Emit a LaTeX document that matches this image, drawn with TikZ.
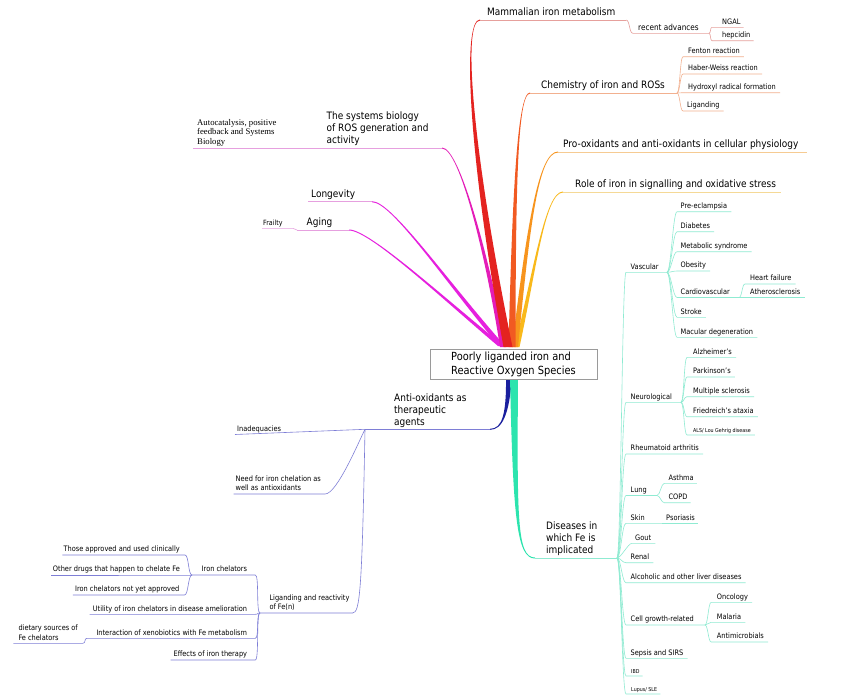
\documentclass[tikz,border=0pt]{standalone}
\usepackage{fontspec}
\setmainfont{DejaVu Sans}[FakeStretch=0.88]
\newfontfamily\timesf{Liberation Serif}
\usetikzlibrary{calc}
\definecolor{cRed}{HTML}{E42320}
\definecolor{lRed}{HTML}{E6A09C}
\definecolor{cChem}{HTML}{F15A22}
\definecolor{lChem}{HTML}{F2B08F}
\definecolor{cPro}{HTML}{F7941D}
\definecolor{lPro}{HTML}{F6CB92}
\definecolor{cRole}{HTML}{F9B91B}
\definecolor{lRole}{HTML}{F5D996}
\definecolor{cSys}{HTML}{E41CB8}
\definecolor{cMag}{HTML}{E620DE}
\definecolor{lMag}{HTML}{E6A0DF}
\definecolor{cBlue}{HTML}{1A1F9E}
\definecolor{lBlue}{HTML}{7E7ED6}
\definecolor{cAqua}{HTML}{2CE4AE}
\definecolor{lAqua}{HTML}{8FEBD2}
\definecolor{boxgray}{HTML}{9A9A9A}
\newcommand\fbig{\fontsize{10.2}{12}\selectfont}
\newcommand\fsm{\fontsize{7.5}{9.5}\selectfont}
\newcommand\fmid{\fontsize{8.3}{10}\selectfont}
\newcommand\ftiny{\fontsize{5.4}{6.5}\selectfont}
\newcommand\ftitle{\fontsize{11.2}{14}\selectfont}
% tapered thick branches
\newcommand\taperR[6]{\fill[#1] ($(#2)+(-#6,0)$) .. controls ($(#3)+(-0.5*#6,0)$) and ($(#4)+(0,-0.5)$) .. ($(#5)+(0,-0.5)$) -- ($(#5)+(0,0.5)$) .. controls ($(#4)+(0,0.5)$) and ($(#3)+(0.5*#6,0)$) .. ($(#2)+(#6,0)$) -- cycle;}
\newcommand\taperL[6]{\fill[#1] ($(#2)+(-#6,0)$) .. controls ($(#3)+(-0.5*#6,0)$) and ($(#4)+(0,0.5)$) .. ($(#5)+(0,0.5)$) -- ($(#5)+(0,-0.5)$) .. controls ($(#4)+(0,-0.5)$) and ($(#3)+(0.5*#6,0)$) .. ($(#2)+(#6,0)$) -- cycle;}
% connectors
\newcommand\Rch[6]{\draw[#1] (#2) .. controls +(#4,0) and +(-#4,0) .. ([xshift=-#5]#3.south west) -- ([xshift=#6]#3.south east);}
\newcommand\Rfk[6]{\draw[#1] (#2) .. controls +(#4,0) and +(-#4,0) .. ([xshift=-#5]#3.south west) -- (#6);}
\newcommand\Lch[6]{\draw[#1] (#2) .. controls +(-#4,0) and +(#4,0) .. ([xshift=#5]#3.south east) -- ([xshift=-#6]#3.south west);}
\newcommand\Lfk[6]{\draw[#1] (#2) .. controls +(-#4,0) and +(#4,0) .. ([xshift=#5]#3.south east) -- (#6);}
\tikzset{
 lbtxt/.style={inner xsep=0pt,inner ysep=3pt,text depth=0pt,align=left,font=\fsm},
 lbR/.style={lbtxt,anchor=south west},
 lbL/.style={lbtxt,anchor=south east},
 lbBig/.style={font=\fbig,inner ysep=4pt},
 lbTiny/.style={font=\ftiny,inner ysep=2.5pt},
 rootbox/.style={draw=boxgray,fill=white,line width=0.8pt,minimum width=167pt,minimum height=30pt,inner sep=0pt,align=left,font=\ftitle},
 ulMain/.style={line width=0.9pt},
 ulSub/.style={line width=0.6pt},
 sRed/.style={ulSub,draw=lRed}, sRedM/.style={ulMain,draw=lRed},
 sChem/.style={ulSub,draw=lChem}, sChemM/.style={ulMain,draw=lChem},
 sProM/.style={ulMain,draw=lPro}, sRoleM/.style={ulMain,draw=lRole},
 sMag/.style={ulSub,draw=lMag}, sMagM/.style={ulMain,draw=lMag},
 sBlue/.style={ulSub,draw=lBlue}, sBlueM/.style={ulMain,draw=lBlue},
 sAqua/.style={ulSub,draw=lAqua}, sAquaM/.style={ulMain,draw=lAqua},
}
\begin{document}
\begin{tikzpicture}[x=1pt,y=-1pt]
\fill[white] (0,0) rectangle (849,699);
\useasboundingbox (0,0) rectangle (849,699);

% ---------- thick main branches ----------
\taperL{cMag}{501,346}{445,300}{370,230}{349,230}{3}
\taperL{cMag}{502,346}{445,280}{392,201.7}{372,201.7}{3}
\taperL{cSys}{503,347}{488,260}{460,148}{442,148}{3}
\taperR{cRole}{517,347}{535,270}{545,192}{563,192}{2.5}
\taperR{cPro}{515,347}{528,230}{538,152}{558,152}{3}
\taperR{cChem}{512,347}{514,200}{517,93}{530,93}{3.5}
\taperR{cRed}{508,347}{470,150}{462,20}{480,20}{4.5}
\taperR{cBlue}{509,376}{508,415}{502,429.3}{490,429.3}{3}
\taperL{cAqua}{514,376}{515,520}{517,558}{535,558}{4}

% ---------- central node ----------
\node[rootbox] (root) at (513.5,364) {Poorly liganded iron and\\Reactive Oxygen Species};

% ---------- main labels ----------
\node[lbR,lbBig] (mam) at (487,20) {Mammalian iron metabolism};
\node[lbR,lbBig] (chem) at (541,93) {Chemistry of iron and ROSs};
\node[lbR,lbBig] (prox) at (563,152) {Pro-oxidants and anti-oxidants in cellular physiology};
\node[lbR,lbBig] (role) at (575,192) {Role of iron in signalling and oxidative stress};
\node[lbR,lbBig] (sys) at (326.5,148) {The systems biology\\of ROS generation and\\activity};
\node[lbR,lbBig] (lon) at (311,201.7) {Longevity};
\node[lbR,lbBig] (age) at (306.5,230) {Aging};
\node[lbR,lbBig] (anti) at (394,429.3) {Anti-oxidants as\\therapeutic\\agents};
\node[lbR,lbBig] (dis) at (546,558) {Diseases in\\which Fe is\\implicated};

% ---------- branch ends and forks ----------
\coordinate (mE) at (480,20);
\coordinate (fm) at (626,20);
\coordinate (frc) at (709,33.3);
\coordinate (cE) at (530,93);
\coordinate (fc) at (677,93);
\coordinate (pE) at (558,152);
\coordinate (rE) at (563,192);
\coordinate (sE) at (442,148);
\coordinate (fsy) at (300,148);
\coordinate (lE) at (372,201.7);
\coordinate (aE) at (349,230);
\coordinate (aF) at (297,230);
\coordinate (bE) at (490,429.3);
\coordinate (fa) at (365,429.3);
\coordinate (flg) at (260,613);
\coordinate (fi) at (192,575);
\coordinate (fx) at (87,638.3);
\coordinate (dE) at (535,558);
\coordinate (fd) at (617,558);
\coordinate (fv) at (667,272.3);
\coordinate (fcv) at (739,297.5);
\coordinate (fn) at (681,402.3);
\coordinate (flu) at (657,495.5);
\coordinate (fsk) at (662,523.3);
\coordinate (fg) at (705,625);

% ---------- Mammalian iron metabolism ----------
\node[lbR,font=\fmid] (rec) at (638,33.3) {recent advances};
\node[lbR] (ngal) at (722,27.3) {NGAL};
\node[lbR] (hep) at (722,40.7) {hepcidin};
\draw[sRedM] (mE) -- (fm);
\Rfk{sRed}{fm}{rec}{4}{5pt}{frc}
\Rch{sRed}{frc}{ngal}{2}{10pt}{3pt}
\Rch{sRed}{frc}{hep}{2}{10pt}{3pt}

% ---------- Chemistry ----------
\node[lbR] (fen) at (688,56.7) {Fenton reaction};
\node[lbR] (hab) at (688,74) {Haber-Weiss reaction};
\node[lbR] (hyd) at (688,92.7) {Hydroxyl radical formation};
\node[lbR] (lgd) at (687,111) {Liganding};
\draw[sChemM] (cE) -- (fc);
\Rch{sChem}{fc}{fen}{3}{5pt}{4pt}
\Rch{sChem}{fc}{hab}{3}{5pt}{4pt}
\Rch{sChem}{fc}{hyd}{3}{5pt}{4pt}
\Rch{sChem}{fc}{lgd}{3}{4pt}{4pt}

% ---------- Pro-oxidants, Role ----------
\draw[sProM] (pE) -- ([xshift=8pt]prox.south east);
\draw[sRoleM] (rE) -- ([xshift=5pt]role.south east);

% ---------- Systems biology, Longevity, Aging ----------
\node[lbR,font={\timesf\fontsize{8.7}{9.7}\selectfont},inner ysep=3.3pt] (auto) at (197,148) {Autocatalysis, positive\\feedback and Systems\\Biology};
\node[lbR,font=\fontsize{7.2}{9}\selectfont] (frail) at (263,228.3) {Frailty};
\draw[sMagM] (sE) -- (fsy);
\draw[sMag] (fsy) -- ([xshift=-4pt]auto.south west);
\draw[sMagM] (lE) -- ([xshift=-3pt]lon.south west);
\draw[sMagM] (aE) -- (aF);
\Lch{sMag}{aF}{frail}{2}{10pt}{1pt}

% ---------- Anti-oxidants ----------
\node[lbR] (inad) at (237,434.5) {Inadequacies};
\node[lbR] (need) at (235.5,494) {Need for iron chelation as\\well as antioxidants};
\node[lbR] (lig) at (269.3,613) {Liganding and reactivity\\of Fe(n)};
\node[lbL] (ich) at (247.3,575) {Iron chelators};
\node[lbL] (tap) at (180,555) {Those approved and used clinically};
\node[lbL] (oth) at (180,575) {Other drugs that happen to chelate Fe};
\node[lbL] (nya) at (179.5,595) {Iron chelators not yet approved};
\node[lbL] (util) at (247.3,614.3) {Utility of iron chelators in disease amelioration};
\node[lbL] (inter) at (247.3,638.3) {Interaction of xenobiotics with Fe metabolism};
\node[lbR] (diet) at (18.3,643.3) {dietary sources of\\Fe chelators};
\node[lbL] (eff) at (247.3,660) {Effects of iron therapy};
\draw[sBlueM] (bE) -- (fa);
\draw[sBlue] (fa) -- ([xshift=-2pt]inad.south west);
\draw[sBlue] (fa) .. controls (359,441) and (337,494) .. ([xshift=4pt]need.south east) -- ([xshift=-2pt]need.south west);
\draw[sBlue] (fa) .. controls (362,590) and (360,613) .. ([xshift=3pt]lig.south east) -- (flg);
\Lfk{sBlue}{flg}{ich}{4}{8pt}{fi}
\Lch{sBlue}{fi}{tap}{4}{5pt}{1pt}
\Lch{sBlue}{fi}{oth}{4}{5pt}{2pt}
\Lch{sBlue}{fi}{nya}{4}{5pt}{2pt}
\Lch{sBlue}{flg}{util}{4}{8pt}{3pt}
\Lfk{sBlue}{flg}{inter}{4}{8pt}{fx}
\Lch{sBlue}{flg}{eff}{4}{8pt}{3pt}
\draw[sBlue] (fx) .. controls +(-3,0) and +(3,0) .. ([xshift=5pt]diet.south east) -- ([xshift=-5pt]diet.south west);

% ---------- Diseases ----------
\node[lbR] (vasc) at (630.5,272.3) {Vascular};
\node[lbR] (pre) at (680.5,211.7) {Pre-eclampsia};
\node[lbR] (diab) at (680.5,231.7) {Diabetes};
\node[lbR] (meta) at (680.5,251.7) {Metabolic syndrome};
\node[lbR] (obes) at (680.5,271) {Obesity};
\node[lbR] (card) at (680.5,297.5) {Cardiovascular};
\node[lbR] (heart) at (750,284) {Heart failure};
\node[lbR] (ath) at (750,297.5) {Atherosclerosis};
\node[lbR] (strk) at (680.5,317.3) {Stroke};
\node[lbR] (mac) at (680.5,337.3) {Macular degeneration};
\node[lbR] (neuro) at (630.5,402.3) {Neurological};
\node[lbR] (alz) at (693,357.3) {Alzheimer's};
\node[lbR] (park) at (693,377) {Parkinson's};
\node[lbR] (ms) at (693,396.7) {Multiple sclerosis};
\node[lbR] (fri) at (693,416.7) {Friedreich's ataxia};
\node[lbR,lbTiny] (als) at (693,435) {ALS/ Lou Gehrig disease};
\node[lbR] (rheu) at (630.5,454) {Rheumatoid arthritis};
\node[lbR] (lung) at (630.5,495.5) {Lung};
\node[lbR] (ast) at (668.3,483.3) {Asthma};
\node[lbR] (copd) at (668.3,502.7) {COPD};
\node[lbR] (skin) at (630.5,523.3) {Skin};
\node[lbR] (psor) at (666,523.3) {Psoriasis};
\node[lbR] (gout) at (635,543.3) {Gout};
\node[lbR] (renal) at (630.5,562.7) {Renal};
\node[lbR] (alc) at (630.5,582.7) {Alcoholic and other liver diseases};
\node[lbR] (cell) at (630.5,625) {Cell growth-related};
\node[lbR] (onc) at (716.7,602.3) {Oncology};
\node[lbR] (mal) at (716.7,622.3) {Malaria};
\node[lbR] (amic) at (716.7,642) {Antimicrobials};
\node[lbR] (seps) at (630.5,658.3) {Sepsis and SIRS};
\node[lbR,lbTiny] (ibd) at (631,676) {IBD};
\node[lbR,lbTiny] (lup) at (631,694) {Lupus/ SLE};

\draw[sAquaM] (dE) -- (fd);
\Rfk{sAqua}{fd}{vasc}{4}{4.5pt}{fv}
\Rch{sAqua}{fv}{pre}{4}{3.5pt}{4pt}
\Rch{sAqua}{fv}{diab}{4}{3.5pt}{4pt}
\Rch{sAqua}{fv}{meta}{4}{3.5pt}{4pt}
\Rch{sAqua}{fv}{obes}{4}{3.5pt}{4pt}
\Rfk{sAqua}{fv}{card}{4}{3.5pt}{fcv}
\Rch{sAqua}{fcv}{heart}{3}{5pt}{4pt}
\Rch{sAqua}{fcv}{ath}{3}{5pt}{4pt}
\Rch{sAqua}{fv}{strk}{4}{3.5pt}{4pt}
\Rch{sAqua}{fv}{mac}{4}{3.5pt}{4pt}
\Rfk{sAqua}{fd}{neuro}{4}{4.5pt}{fn}
\Rch{sAqua}{fn}{alz}{3}{6pt}{4pt}
\Rch{sAqua}{fn}{park}{3}{6pt}{4pt}
\Rch{sAqua}{fn}{ms}{3}{6pt}{4pt}
\Rch{sAqua}{fn}{fri}{3}{6pt}{4pt}
\Rch{sAqua}{fn}{als}{3}{6pt}{4pt}
\Rch{sAqua}{fd}{rheu}{4}{4.5pt}{4pt}
\Rfk{sAqua}{fd}{lung}{4}{4.5pt}{flu}
\Rch{sAqua}{flu}{ast}{3}{4pt}{3pt}
\Rch{sAqua}{flu}{copd}{3}{4pt}{3pt}
\Rfk{sAqua}{fd}{skin}{4}{4.5pt}{fsk}
\draw[sAqua] (fsk) -- ([xshift=3pt]psor.south east);
\Rch{sAqua}{fd}{gout}{4}{3pt}{4pt}
\Rch{sAqua}{fd}{renal}{4}{4.5pt}{4pt}
\Rch{sAqua}{fd}{alc}{4}{4.5pt}{4pt}
\Rfk{sAqua}{fd}{cell}{4}{4.5pt}{fg}
\Rch{sAqua}{fg}{onc}{3}{5.5pt}{4pt}
\Rch{sAqua}{fg}{mal}{3}{5.5pt}{4pt}
\Rch{sAqua}{fg}{amic}{3}{5.5pt}{4pt}
\Rch{sAqua}{fd}{seps}{4}{4.5pt}{4pt}
\Rch{sAqua}{fd}{ibd}{4}{5pt}{3pt}
\Rch{sAqua}{fd}{lup}{4}{5pt}{3pt}
\end{tikzpicture}
\end{document}
